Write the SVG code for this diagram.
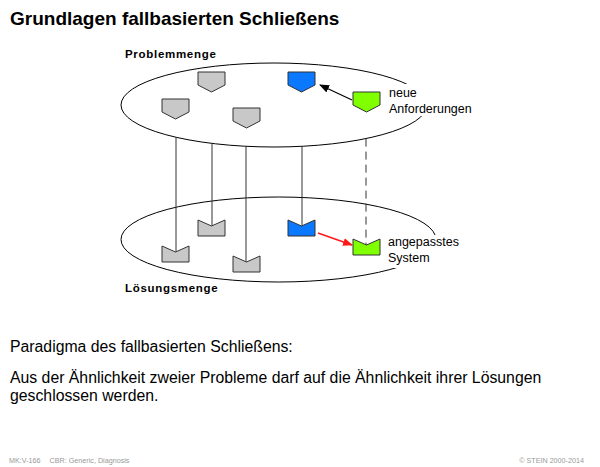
<svg xmlns="http://www.w3.org/2000/svg" xmlns:xlink="http://www.w3.org/1999/xlink" width="600" height="467" viewBox="0 0 600 467">
<style>
text{font-family:"Liberation Sans",Arial,sans-serif;fill:#000}
.title{font-size:19px;font-weight:bold}
.set{font-size:11.5px;font-weight:bold;letter-spacing:0.7px}
.lbl{font-size:12.5px}
.body{font-size:15.8px}
.foot{font-size:7.2px;fill:#999}
.ell{fill:none;stroke:#000;stroke-width:1}
.sh{stroke:#333;stroke-width:1}
.gray{fill:#c8c8c8}
.blue{fill:#0a78ff}
.green{fill:#80ff00}
.ln{stroke:#333;stroke-width:1;fill:none}
.dash{stroke-dasharray:8,5}
</style>
<defs>
<path id="pent" d="M0,0 H27 V13 L13.5,20 L0,13 Z"/>
<path id="cup" d="M0,0 L13.5,6 L27,0 V16 H0 Z"/>
<marker id="ah" markerWidth="10" markerHeight="8" refX="9" refY="4" orient="auto" markerUnits="userSpaceOnUse">
<path d="M0,0 L10,4 L0,8 Z" fill="#000"/>
</marker>
<marker id="ahr" markerWidth="10" markerHeight="8" refX="9" refY="4" orient="auto" markerUnits="userSpaceOnUse">
<path d="M0,0 L10,4 L0,8 Z" fill="#ff1a1a"/>
</marker>
</defs>
<rect width="600" height="467" fill="#fff"/>
<text class="title" x="10" y="25">Grundlagen fallbasierten Schließens</text>

<g id="problemmenge">
<ellipse class="ell" cx="274" cy="105" rx="153" ry="42"/>
<text class="set" x="125" y="58">Problemmenge</text>
</g>
<g id="loesungsmenge">
<ellipse class="ell" cx="278.5" cy="239.5" rx="157.5" ry="42.5"/>
<text class="set" x="125" y="292">Lösungsmenge</text>
</g>

<g id="connectors">
<line class="ln" x1="176" y1="137.3" x2="176" y2="252"/>
<line class="ln" x1="212" y1="143.4" x2="212" y2="226"/>
<line class="ln" x1="246" y1="146.3" x2="246" y2="262"/>
<line class="ln" x1="302" y1="146.3" x2="302" y2="226"/>
<line class="ln dash" x1="366" y1="138.6" x2="366" y2="245"/>
<line x1="352" y1="100" x2="320" y2="85" stroke="#000" stroke-width="1.2" marker-end="url(#ah)"/>
<line x1="318" y1="233" x2="352" y2="245" stroke="#ff1a1a" stroke-width="1.6" marker-end="url(#ahr)"/>
</g>

<g id="p1"><use xlink:href="#pent" x="198" y="72" class="sh gray"/></g>
<g id="p2"><use xlink:href="#pent" x="162" y="99" class="sh gray"/></g>
<g id="p3"><use xlink:href="#pent" x="233" y="108" class="sh gray"/></g>
<g id="p4"><use xlink:href="#pent" x="288" y="72" class="sh blue"/></g>
<g id="p5"><use xlink:href="#pent" x="353" y="92" class="sh green"/></g>

<g id="s1"><use xlink:href="#cup" x="198" y="220" class="sh gray"/></g>
<g id="s2"><use xlink:href="#cup" x="162" y="246" class="sh gray"/></g>
<g id="s3"><use xlink:href="#cup" x="233" y="256" class="sh gray"/></g>
<g id="s4"><use xlink:href="#cup" x="288" y="220" class="sh blue"/></g>
<g id="s5"><use xlink:href="#cup" x="353" y="239" class="sh green"/></g>

<g id="label-neue">
<rect x="386" y="84" width="92" height="32" fill="#fff"/>
<text class="lbl" x="389" y="97">neue</text>
<text class="lbl" x="389" y="113">Anforderungen</text>
</g>
<g id="label-angepasst">
<rect x="385" y="235" width="80" height="33" fill="#fff"/>
<text class="lbl" x="388" y="246">angepasstes</text>
<text class="lbl" x="388" y="262">System</text>
</g>

<text class="body" x="10" y="352">Paradigma des fallbasierten Schließens:</text>
<text class="body" x="10" y="383">Aus der Ähnlichkeit zweier Probleme darf auf die Ähnlichkeit ihrer Lösungen</text>
<text class="body" x="10" y="401">geschlossen werden.</text>

<text class="foot" x="9" y="463">MK:V-166<tspan dx="9">CBR: Generic, Diagnosis</tspan></text>
<text class="foot" x="584" y="463" text-anchor="end">© STEIN 2000-2014</text>
</svg>
